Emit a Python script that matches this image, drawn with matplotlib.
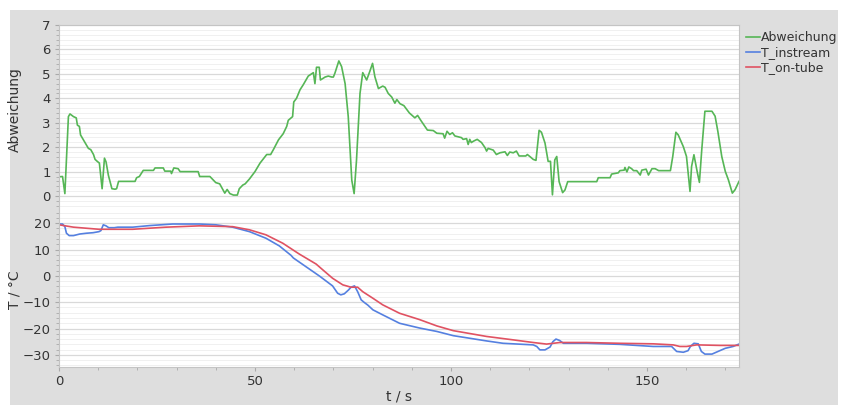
import matplotlib
matplotlib.use("Agg")
import matplotlib.pyplot as plt
from matplotlib.ticker import MultipleLocator
from matplotlib.patches import Rectangle

# Deviation between the two sensors
t_abw = [0.1, 0.9, 1.5, 2.4, 2.8, 3.7, 4.4, 4.7, 5.2, 5.5, 6.6, 7.5, 8.1, 8.8, 9.2, 9.9,
         10.3, 11.0, 11.6, 12.0, 12.6, 13.5, 14.3, 14.7, 15.2, 19.4, 19.8, 20.5, 21.5,
         24.1, 24.5, 26.6, 27.0, 28.5, 28.7, 29.3, 30.4, 30.9, 35.5, 35.9, 38.5, 39.4,
         40.0, 41.0, 41.7, 42.3, 42.9, 43.6, 44.5, 45.5, 46.0, 46.9, 47.5, 48.6, 50.0,
         51.3, 53.0, 54.0, 54.7, 56.0, 57.2, 58.1, 58.5, 59.6, 59.9, 60.6, 61.5, 62.3,
         63.2, 63.6, 64.9, 65.3, 65.7, 66.4, 66.7, 67.9, 68.7, 69.6, 70.0, 70.4, 71.4,
         72.1, 73.0, 73.8, 74.7, 75.3, 75.9, 76.8, 77.5, 78.5, 79.3, 80.0, 80.6, 81.5,
         82.6, 83.2, 84.0, 84.9, 85.7, 86.2, 87.0, 88.0, 89.4, 90.8, 91.5, 92.3, 94.0,
         95.5, 96.4, 98.0, 98.4, 99.0, 99.7, 100.4, 101.0, 102.7, 103.1, 104.0, 104.4,
         104.8, 105.2, 105.8, 106.7, 107.8, 108.7, 109.1, 109.5, 110.8, 111.6, 112.5,
         113.8, 114.4, 115.0, 115.9, 116.7, 117.4, 119.1, 119.5, 120.2, 121.0, 121.7,
         122.5, 123.1, 124.0, 124.8, 125.4, 125.9, 126.5, 127.0, 127.6, 128.5, 129.1,
         129.8, 137.2, 137.6, 140.6, 141.0, 142.7, 143.1, 144.2, 144.4, 144.9, 145.4,
         146.1, 146.6, 147.4, 148.3, 148.7, 149.8, 150.4, 151.3, 152.1, 153.0, 156.0,
         156.6, 157.4, 158.0, 159.3, 160.1, 161.0, 161.4, 162.0, 162.9, 163.4, 164.0,
         164.8, 166.6, 167.4, 168.1, 169.1, 170.0, 170.8, 171.8, 172.5, 173.5]
abweichung = [0.79, 0.8, 0.1, 3.25, 3.36, 3.25, 3.2, 2.9, 2.85, 2.5, 2.2, 1.95, 1.9, 1.7,
              1.5, 1.4, 1.35, 0.3, 1.55, 1.4, 0.85, 0.3, 0.28, 0.3, 0.6, 0.6, 0.75, 0.8,
              1.05, 1.05, 1.15, 1.15, 1.02, 1.02, 0.92, 1.15, 1.12, 1.0, 1.0, 0.8, 0.8,
              0.65, 0.55, 0.5, 0.3, 0.12, 0.27, 0.1, 0.04, 0.04, 0.3, 0.45, 0.5, 0.7, 1.0,
              1.35, 1.7, 1.7, 1.9, 2.3, 2.55, 2.85, 3.1, 3.25, 3.85, 4.0, 4.35, 4.55, 4.8,
              4.91, 5.05, 4.6, 5.27, 5.27, 4.75, 4.87, 4.91, 4.87, 4.87, 5.03, 5.53, 5.3,
              4.6, 3.25, 0.65, 0.1, 1.45, 4.2, 5.05, 4.75, 5.1, 5.43, 4.88, 4.4, 4.5,
              4.45, 4.2, 4.05, 3.8, 3.95, 3.78, 3.7, 3.4, 3.2, 3.3, 3.1, 2.7, 2.68, 2.57,
              2.55, 2.37, 2.65, 2.52, 2.59, 2.46, 2.39, 2.32, 2.35, 2.11, 2.32, 2.19, 2.25,
              2.32, 2.19, 1.98, 1.84, 1.95, 1.88, 1.70, 1.77, 1.81, 1.66, 1.80, 1.77, 1.84,
              1.64, 1.64, 1.70, 1.61, 1.50, 1.46, 2.69, 2.61, 2.17, 1.42, 1.42, 0.05, 1.48,
              1.62, 0.59, 0.14, 0.25, 0.59, 0.59, 0.75, 0.75, 0.9, 0.95, 1.04, 1.06, 1.17,
              0.99, 1.19, 1.12, 1.04, 1.04, 0.86, 1.06, 1.1, 0.86, 1.12, 1.12, 1.04, 1.04,
              1.62, 2.61, 2.5, 2.02, 1.62, 0.19, 1.21, 1.69, 0.94, 0.56, 1.9, 3.47, 3.47,
              3.27, 2.65, 1.62, 1.01, 0.66, 0.12, 0.26, 0.6]

# In-stream temperature
t_instream = [0.1, 0.9, 1.5, 1.9, 2.6, 3.7, 5.3, 7.0, 8.7, 10.2, 10.7, 11.3, 12.0, 12.7,
              14.1, 15.0, 18.8, 23.1, 29.0, 35.8, 40.0, 44.3, 48.6, 52.8, 56.2, 59.2,
              59.8, 63.0, 66.4, 69.8, 71.1, 71.9, 72.8, 73.9, 74.5, 75.4, 76.2, 77.1,
              77.9, 78.8, 80.1, 82.6, 86.9, 92.0, 96.4, 100.6, 109.1, 113.3, 121.0,
              121.9, 122.7, 124.0, 125.3, 126.0, 126.8, 127.7, 128.7, 134.6, 143.1,
              151.6, 156.3, 157.6, 159.3, 160.5, 161.1, 162.0, 163.1, 163.9, 164.8,
              166.6, 168.6, 170.0, 172.0, 173.5]
T_instream = [19.7, 19.7, 18.7, 16.2, 15.3, 15.3, 15.9, 16.2, 16.4, 16.8, 17.2, 19.4,
              19.0, 18.3, 18.3, 18.5, 18.5, 19.1, 19.7, 19.7, 19.4, 18.5, 16.8, 14.3,
              11.4, 7.8, 6.8, 3.5, 0.0, -3.8, -6.6, -7.2, -6.8, -5.3, -4.3, -3.8, -6.0,
              -9.1, -10.1, -11.1, -12.9, -14.8, -18.0, -19.8, -21.1, -22.7, -24.7, -25.6,
              -26.2, -26.8, -28.1, -28.1, -27.0, -25.0, -24.0, -24.5, -25.6, -25.6,
              -26.0, -26.8, -26.8, -28.7, -29.0, -28.4, -26.8, -25.6, -25.8, -28.7,
              -29.7, -29.7, -28.4, -27.5, -26.8, -25.9]

# On-tube temperature
t_ontube = [0.0, 3.7, 10.2, 18.8, 27.3, 35.8, 44.3, 48.6, 52.8, 57.1, 61.3, 65.6, 67.3,
            69.8, 72.4, 74.5, 76.2, 77.5, 80.1, 82.6, 86.9, 92.0, 96.4, 100.6, 109.1,
            115.9, 121.0, 124.4, 127.8, 134.6, 143.1, 151.6, 156.7, 158.4, 160.1, 162.7,
            168.6, 173.5]
T_ontube = [19.4, 18.5, 17.7, 17.7, 18.5, 19.0, 18.7, 17.5, 15.6, 12.4, 8.3, 4.5, 2.3,
            -0.9, -3.4, -4.3, -4.3, -6.0, -8.5, -11.0, -14.2, -16.6, -19.0, -20.8, -23.0,
            -24.3, -25.3, -25.9, -25.3, -25.3, -25.6, -25.8, -26.2, -26.8, -26.8, -26.2,
            -26.4, -26.4]

x_ticks = [0, 50, 100, 150]

GREEN = "#56b656"
BLUE = "#5580e0"
RED = "#e05262"
BG = "#dedede"
TXT = "#333333"

plt.rcParams["font.family"] = ["DejaVu Sans"]

W, H = 841, 405
fig = plt.figure(figsize=(W / 100, H / 100), dpi=100)
fig.patch.set_facecolor("white")
fig.patches.append(Rectangle((10 / W, 0), (838 - 10) / W, (H - 10) / H,
                             transform=fig.transFigure, facecolor=BG,
                             edgecolor="none", zorder=-10))

left, right = 59 / W, 739 / W
ax1 = fig.add_axes([left, (H - 209) / H, right - left, (209 - 25) / H])
ax2 = fig.add_axes([left, (H - 367) / H, right - left, (367 - 209) / H], sharex=ax1)

for ax in (ax1, ax2):
    ax.set_facecolor("white")
    ax.grid(True, which="major", axis="y", color="#d9d9d9", lw=0.9)
    ax.grid(True, which="minor", axis="y", color="#f0f0f0", lw=0.7)
    ax.set_axisbelow(True)
    for s in ax.spines.values():
        s.set_color("#c4c4c4")
        s.set_linewidth(0.8)
    ax.tick_params(which="both", colors="#aaaaaa", labelcolor=TXT, labelsize=9.5,
                   direction="out")
    ax.tick_params(which="major", length=3, pad=3)
    ax.tick_params(which="minor", length=2)

ax1.spines["bottom"].set_visible(False)
ax2.spines["top"].set_visible(False)

ax1.plot(t_abw, abweichung, color=GREEN, lw=1.2, label="Abweichung")
ax2.plot(t_instream, T_instream, color=BLUE, lw=1.2, label="T_instream")
ax2.plot(t_ontube, T_ontube, color=RED, lw=1.2, label="T_on-tube")

ax1.set_xlim(0, 173.5)
ax1.set_ylim(-0.53, 7)
ax1.yaxis.set_major_locator(MultipleLocator(1))
ax1.yaxis.set_minor_locator(MultipleLocator(0.2))
ax1.tick_params(axis="x", which="both", bottom=False, labelbottom=False)

ax2.set_ylim(-34.6, 25.4)
ax2.set_yticks([-30, -20, -10, 0, 10, 20])
ax2.yaxis.set_minor_locator(MultipleLocator(2))
ax2.set_xticks(x_ticks)
ax2.xaxis.set_minor_locator(MultipleLocator(10))
ax2.tick_params(axis="x", which="major", pad=3)

fig.text(15 / W, (H - 110) / H, "Abweichung", rotation=90, ha="center", va="center",
         fontsize=10, color=TXT)
fig.text(15 / W, (H - 290) / H, "T / °C", rotation=90, ha="center", va="center",
         fontsize=10, color=TXT)
fig.text(399 / W, (H - 396) / H, "t / s", ha="center", va="center",
         fontsize=10, color=TXT)

handles = ax1.get_lines() + ax2.get_lines()
fig.legend(handles, [h.get_label() for h in handles], loc="upper left",
           bbox_to_anchor=(740 / W, (H - 25) / H), frameon=False, fontsize=9,
           handlelength=1.1, handletextpad=0.1, labelspacing=0.15, borderpad=0,
           labelcolor=TXT)

fig.savefig("out.png", dpi=100, facecolor=fig.get_facecolor())
